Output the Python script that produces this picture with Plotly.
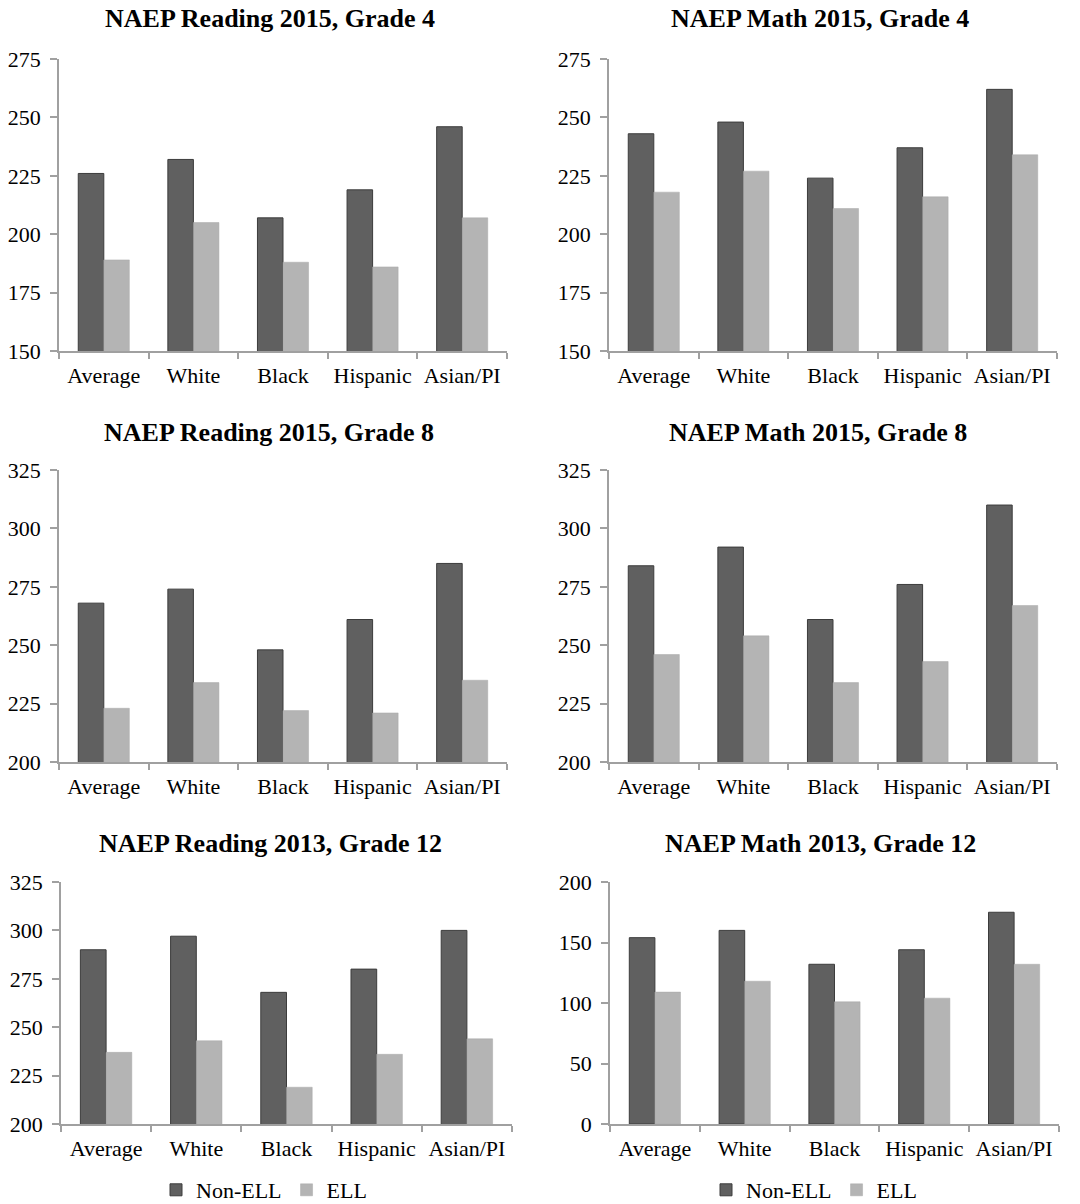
import plotly.graph_objects as go

categories = ["Average", "White", "Black", "Hispanic", "Asian/PI"]

titles = [
    "NAEP Reading 2015, Grade 4",
    "NAEP Math 2015, Grade 4",
    "NAEP Reading 2015, Grade 8",
    "NAEP Math 2015, Grade 8",
    "NAEP Reading 2013, Grade 12",
    "NAEP Math 2013, Grade 12",
]

read4_non_ell = [226, 232, 207, 219, 246]
read4_ell = [189, 205, 188, 186, 207]
math4_non_ell = [243, 248, 224, 237, 262]
math4_ell = [218, 227, 211, 216, 234]
read8_non_ell = [268, 274, 248, 261, 285]
read8_ell = [223, 234, 222, 221, 235]
math8_non_ell = [284, 292, 261, 276, 310]
math8_ell = [246, 254, 234, 243, 267]
read12_non_ell = [290, 297, 268, 280, 300]
read12_ell = [237, 243, 219, 236, 244]
math12_non_ell = [154, 160, 132, 144, 175]
math12_ell = [109, 118, 101, 104, 132]

y_ranges = [(150, 275), (150, 275), (200, 325), (200, 325), (200, 325), (0, 200)]
y_dticks = [25, 25, 25, 25, 25, 50]

series = [
    (read4_non_ell, read4_ell),
    (math4_non_ell, math4_ell),
    (read8_non_ell, read8_ell),
    (math8_non_ell, math8_ell),
    (read12_non_ell, read12_ell),
    (math12_non_ell, math12_ell),
]

W, H = 1080, 1204
# pixel boxes: (left, right, top, bottom)
boxes = [
    (59, 507, 59, 351),
    (609, 1057, 59, 351),
    (59, 507, 470, 762),
    (609, 1057, 470, 762),
    (61, 512, 882, 1124),
    (610, 1059, 882, 1124),
]
title_pos = [(270, 18), (820, 18), (269, 432), (818, 432), (270, 843), (820, 843)]

DARK = "#606060"
LIGHT = "#b4b4b4"
AXIS = "#a0a0a0"
FONT = "Liberation Serif"

fig = go.Figure()
layout = dict(
    width=W, height=H,
    margin=dict(l=0, r=0, t=0, b=0, autoexpand=False),
    paper_bgcolor="white", plot_bgcolor="white",
    barmode="group", bargap=0.43, bargroupgap=0.0,
    font=dict(family=FONT, size=22, color="black"),
    annotations=[],
)

for i, ((non, ell), box, (lo, hi), dt) in enumerate(zip(series, boxes, y_ranges, y_dticks)):
    n = i + 1
    xa = "x" if n == 1 else f"x{n}"
    ya = "y" if n == 1 else f"y{n}"
    leg = None
    show = False
    if i == 4:
        leg, show = "legend", True
    elif i == 5:
        leg, show = "legend2", True
    kw = dict(legend=leg) if leg else {}
    fig.add_trace(go.Bar(x=categories, y=non, name="Non-ELL", xaxis=xa, yaxis=ya,
                         marker=dict(color=DARK, line=dict(color="#3c3c3c", width=1)),
                         showlegend=show, **kw))
    fig.add_trace(go.Bar(x=categories, y=ell, name="ELL", xaxis=xa, yaxis=ya,
                         marker=dict(color=LIGHT, line=dict(color="#a8a8a8", width=0.5)),
                         showlegend=show, **kw))
    l, r, t, b = box
    xkey = "xaxis" if n == 1 else f"xaxis{n}"
    ykey = "yaxis" if n == 1 else f"yaxis{n}"
    layout[xkey] = dict(
        domain=[l / W, r / W], anchor=ya, type="category",
        showline=True, linecolor=AXIS, linewidth=1.5,
        ticks="outside", tickson="boundaries", ticklen=6, tickcolor=AXIS, tickwidth=1.5,
        showgrid=False, zeroline=False, fixedrange=True, automargin=False,
        tickfont=dict(family=FONT, size=22, color="black"),
        ticklabelstandoff=4,
    )
    layout[ykey] = dict(
        domain=[1 - b / H, 1 - t / H], anchor=xa,
        range=[lo, hi], dtick=dt, tick0=lo,
        showline=True, linecolor=AXIS, linewidth=1.5,
        ticks="outside", ticklen=7, tickcolor=AXIS, tickwidth=1.5,
        showgrid=False, zeroline=False, fixedrange=True, automargin=False,
        tickfont=dict(family=FONT, size=22, color="black"),
        ticklabelstandoff=5,
    )
    tx, ty = title_pos[i]
    layout["annotations"].append(dict(
        text=f"<b>{titles[i]}</b>", x=tx / W, y=1 - ty / H, xref="paper", yref="paper",
        xanchor="center", yanchor="middle", showarrow=False,
        font=dict(family=FONT, size=26, color="black"),
    ))

legend_common = dict(
    orientation="h", yanchor="middle", xanchor="center",
    font=dict(family=FONT, size=22, color="black"),
    bgcolor="rgba(0,0,0,0)", itemwidth=30, traceorder="normal",
    itemclick=False, itemdoubleclick=False,
)
layout["legend"] = dict(x=264 / W, y=1 - 1190 / H, **legend_common)
layout["legend2"] = dict(x=814 / W, y=1 - 1190 / H, **legend_common)

fig.update_layout(**layout)
fig.write_html(
    "out.html",
    config={"displayModeBar": False},
    post_script="document.body.style.margin='0';document.body.style.overflow='hidden';",
)
